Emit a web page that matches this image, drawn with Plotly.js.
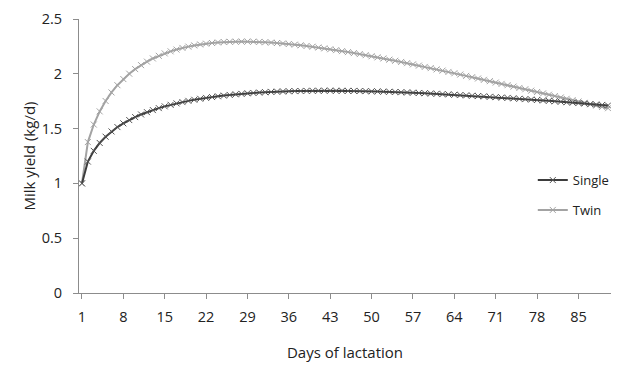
<!DOCTYPE html>
<html>
<head>
<meta charset="utf-8">
<script src="https://cdn.plot.ly/plotly-3.0.1.min.js"></script>
<style>html,body{margin:0;padding:0;background:#fff;}#chart{width:623px;height:366px;}</style>
</head>
<body>
<div id="chart"></div>
<script>
// Days of lactation (category positions 1..90)
const days = Array.from({length: 90}, (_, i) => i + 1);
const tickDays = [1, 8, 15, 22, 29, 36, 43, 50, 57, 64, 71, 78, 85];

// Milk yield (kg/d)
const single = [
  1.000, 1.199, 1.297, 1.369, 1.426, 1.474, 1.514, 1.548, 1.578, 1.605,
  1.629, 1.650, 1.669, 1.687, 1.703, 1.717, 1.730, 1.742, 1.753, 1.763,
  1.772, 1.780, 1.788, 1.795, 1.801, 1.807, 1.813, 1.817, 1.822, 1.825,
  1.829, 1.832, 1.835, 1.837, 1.839, 1.841, 1.842, 1.843, 1.844, 1.845,
  1.845, 1.846, 1.846, 1.845, 1.845, 1.844, 1.844, 1.843, 1.842, 1.840,
  1.839, 1.837, 1.836, 1.834, 1.832, 1.830, 1.828, 1.825, 1.823, 1.820,
  1.818, 1.815, 1.812, 1.809, 1.806, 1.803, 1.800, 1.797, 1.794, 1.790,
  1.787, 1.783, 1.780, 1.776, 1.772, 1.769, 1.765, 1.761, 1.757, 1.753,
  1.749, 1.745, 1.741, 1.737, 1.733, 1.729, 1.724, 1.720, 1.716, 1.711
];
const twin = [
  1.000, 1.377, 1.537, 1.657, 1.752, 1.830, 1.896, 1.952, 2.001, 2.043,
  2.079, 2.111, 2.140, 2.164, 2.186, 2.205, 2.221, 2.236, 2.248, 2.259,
  2.268, 2.275, 2.281, 2.286, 2.290, 2.292, 2.293, 2.294, 2.294, 2.293,
  2.291, 2.288, 2.285, 2.281, 2.277, 2.272, 2.266, 2.260, 2.254, 2.247,
  2.240, 2.232, 2.224, 2.216, 2.207, 2.198, 2.189, 2.180, 2.170, 2.160,
  2.150, 2.140, 2.129, 2.119, 2.108, 2.097, 2.086, 2.075, 2.063, 2.052,
  2.040, 2.029, 2.017, 2.005, 1.993, 1.981, 1.969, 1.957, 1.945, 1.933,
  1.920, 1.908, 1.896, 1.883, 1.871, 1.859, 1.846, 1.834, 1.821, 1.809,
  1.797, 1.784, 1.772, 1.759, 1.747, 1.735, 1.722, 1.710, 1.698, 1.686
];
const seriesNames = ['Single', 'Twin'];

const FONT = '"Open Sans", Lato, sans-serif';
const axisCol = '#8c8c8c';
const textCol = '#222222';

const traces = [
  {
    x: days, y: twin, name: seriesNames[1], type: 'scatter', mode: 'lines+markers',
    line: {color: '#a3a3a3', width: 2},
    marker: {symbol: 'x-thin-open', size: 6, color: '#a3a3a3', line: {color: '#a3a3a3', width: 1}},
    legend: 'legend2'
  },
  {
    x: days, y: single, name: seriesNames[0], type: 'scatter', mode: 'lines+markers',
    line: {color: '#3c3c3c', width: 2},
    marker: {symbol: 'x-thin-open', size: 6, color: '#555555', line: {color: '#555555', width: 1}},
    legend: 'legend'
  }
];

const legendCommon = {
  xanchor: 'left', yanchor: 'middle', x: 0.853,
  bgcolor: 'rgba(0,0,0,0)', borderwidth: 0,
  font: {family: FONT, size: 13, color: textCol},
  itemwidth: 30
};

const layout = {
  width: 623, height: 366,
  margin: {l: 79, r: 8, t: 19, b: 73},
  paper_bgcolor: '#ffffff', plot_bgcolor: '#ffffff',
  font: {family: FONT, size: 14, color: textCol},
  showlegend: true,
  legend: Object.assign({}, legendCommon, {y: 0.412}),
  legend2: Object.assign({}, legendCommon, {y: 0.303}),
  xaxis: {
    range: [0.5, 90.5],
    tickmode: 'array', tickvals: tickDays, ticktext: tickDays.map(String),
    ticks: 'outside', ticklen: 5, tickcolor: axisCol, tickwidth: 1,
    showline: true, linecolor: axisCol, linewidth: 1,
    showgrid: false, zeroline: false,
    ticklabelstandoff: 6,
    tickfont: {family: FONT, size: 14.5, color: textCol},
    title: {text: 'Days of lactation', font: {family: FONT, size: 15, color: textCol}, standoff: 22}
  },
  yaxis: {
    range: [0, 2.5], dtick: 0.5, tick0: 0,
    ticks: 'outside', ticklen: 5, tickcolor: axisCol, tickwidth: 1,
    showline: true, linecolor: axisCol, linewidth: 1,
    showgrid: false, zeroline: false,
    ticklabelstandoff: 8,
    tickfont: {family: FONT, size: 14.5, color: textCol},
    title: {text: 'Milk yield (kg/d)', font: {family: FONT, size: 15, color: textCol}, standoff: 2}
  }
};

Plotly.newPlot('chart', traces, layout, {displayModeBar: false, staticPlot: true});
</script>
</body>
</html>
